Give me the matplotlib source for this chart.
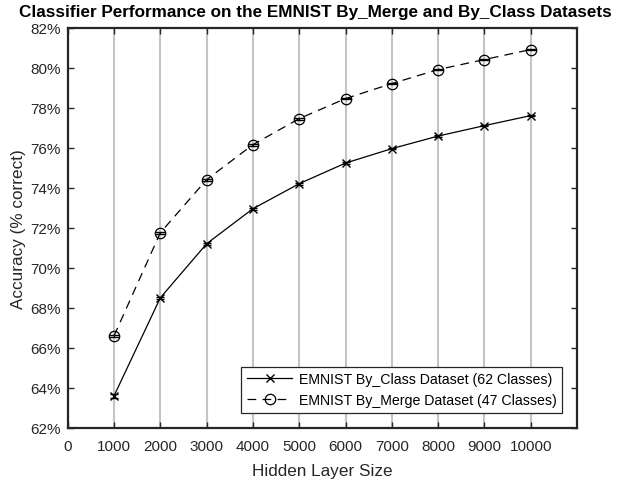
import numpy as np
import matplotlib
matplotlib.use("Agg")
from matplotlib import pyplot as plt

plt.rcParams['font.family'] = ['Liberation Sans', 'DejaVu Sans']

# Данные
hidden_sizes = [1000, 2000, 3000, 4000, 5000, 6000, 7000, 8000, 9000, 10000]
acc_by_class = [63.6, 68.5, 71.2, 72.95, 74.2, 75.23, 75.95, 76.58, 77.1, 77.6]
acc_by_merge = [66.6, 71.75, 74.4, 76.15, 77.45, 78.45, 79.2, 79.9, 80.4, 80.9]
err_by_class = [0.12, 0.06, 0.05, 0.05, 0.05, 0.04, 0.04, 0.04, 0.04, 0.04]
err_by_merge = [0.06, 0.05, 0.05, 0.05, 0.05, 0.04, 0.04, 0.04, 0.04, 0.04]

x_ticks = [0, 1000, 2000, 3000, 4000, 5000, 6000, 7000, 8000, 9000, 10000]
y_ticks = [62, 64, 66, 68, 70, 72, 74, 76, 78, 80, 82]
y_tick_labels = [f"{v}%" for v in y_ticks]

fig = plt.figure(figsize=(6.24, 4.85), dpi=100)
ax = fig.add_axes([0.1085, 0.1155, 0.8162, 0.8257])

# Разброс (планки погрешностей), без подписи в легенде
ax.errorbar(hidden_sizes, acc_by_class, yerr=err_by_class, fmt='none',
            ecolor='black', capsize=3, elinewidth=0.9)
ax.errorbar(hidden_sizes, acc_by_merge, yerr=err_by_merge, fmt='none',
            ecolor='black', capsize=3.5, elinewidth=0.9)

ax.plot(hidden_sizes, acc_by_class, color='black', linestyle='-', linewidth=0.9,
        marker='x', markersize=6, markeredgewidth=1.0,
        label="EMNIST By_Class Dataset (62 Classes)")
ax.plot(hidden_sizes, acc_by_merge, color='black', linestyle=(0, (7, 5)), linewidth=0.9,
        marker='o', markersize=7.5, markerfacecolor='none', markeredgewidth=0.9,
        label="EMNIST By_Merge Dataset (47 Classes)")

ax.set_xlim(0, 11000)
ax.set_ylim(62, 82)
ax.set_xticks(x_ticks)
ax.set_yticks(y_ticks)
ax.set_yticklabels(y_tick_labels)
ax.tick_params(direction='in', top=True, right=True, length=4, width=1,
               labelsize=11, colors='#262626')
ax.tick_params(axis='x', pad=8)
ax.tick_params(axis='y', pad=5)

ax.grid(True, axis='x', color='#c4c4c4', linewidth=1.5)
ax.set_axisbelow(True)
for s in ax.spines.values():
    s.set_linewidth(1.6)
    s.set_color('#262626')

ax.set_title("Classifier Performance on the EMNIST By_Merge and By_Class Datasets",
             fontsize=12.3, fontweight='bold', pad=8, x=0.486)
ax.set_xlabel("Hidden Layer Size", fontsize=12.3, color='#262626', labelpad=7)
ax.set_ylabel("Accuracy (% correct)", fontsize=12.3, color='#262626', labelpad=3)

leg = ax.legend(loc='lower right', fontsize=10.2, frameon=True, fancybox=False,
                edgecolor='#262626', framealpha=1, borderaxespad=1.05,
                handlelength=3.2, handletextpad=0.45, borderpad=0.4,
                labelspacing=0.5)
leg.get_frame().set_linewidth(0.9)

fig.savefig("out.png", dpi=100)
